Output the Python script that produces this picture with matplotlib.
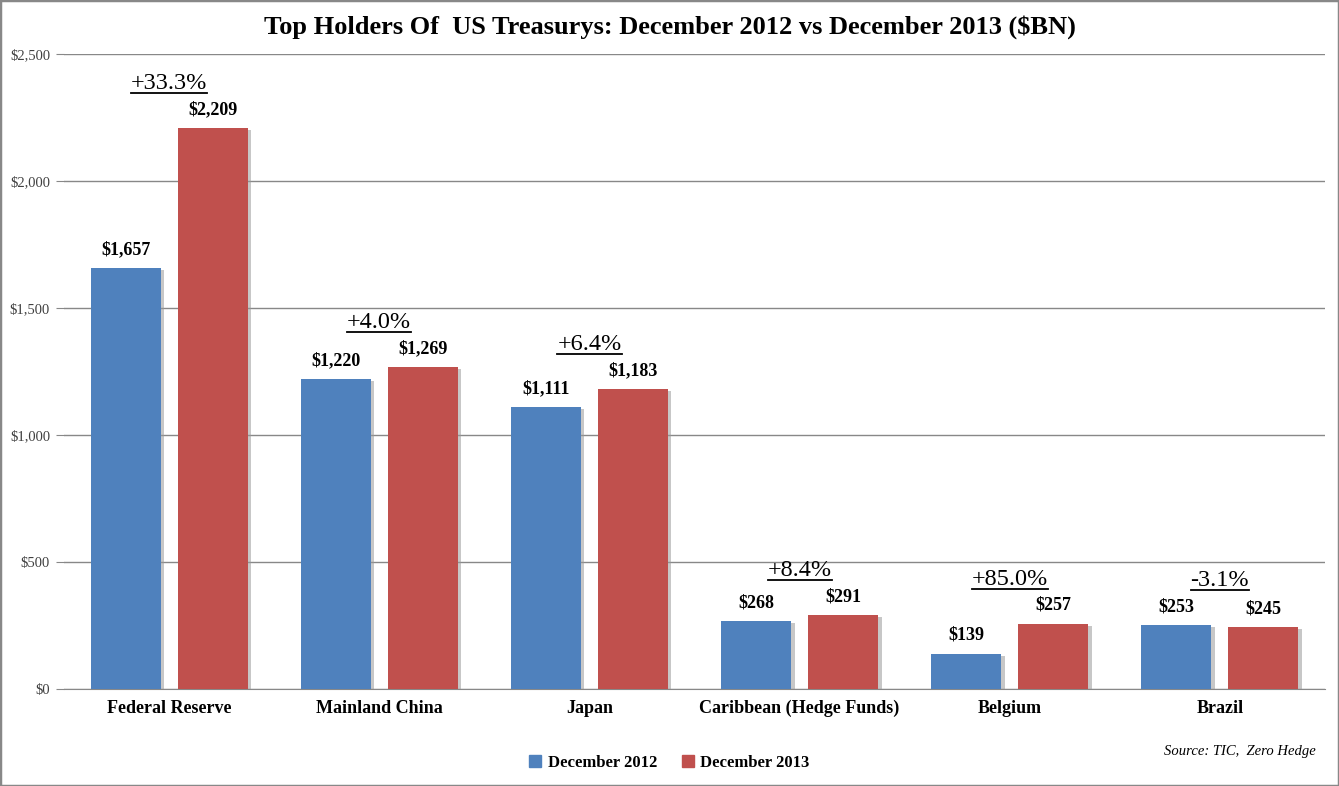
import matplotlib
matplotlib.use("Agg")
import matplotlib.pyplot as plt
import matplotlib.patheffects as pe
from matplotlib.lines import Line2D
from matplotlib.patches import Rectangle, Patch
import numpy as np

plt.rcParams['font.family'] = ['Liberation Serif', 'DejaVu Serif']

categories = ["Federal Reserve", "Mainland China", "Japan",
              "Caribbean (Hedge Funds)", "Belgium", "Brazil"]
dec2012 = [1657, 1220, 1111, 268, 139, 253]
dec2013 = [2209, 1269, 1183, 291, 257, 245]
pct_labels = ["+33.3%", "+4.0%", "+6.4%", "+8.4%", "+85.0%", "-3.1%"]
yticks = [0, 500, 1000, 1500, 2000, 2500]

blue = "#4F81BD"
red = "#C0504D"

fig = plt.figure(figsize=(13.39, 7.86), dpi=100)
ax = fig.add_axes([64/1339, 1-689/786, (1325-64)/1339, (689-54)/786])

x = np.arange(len(categories))
w = 0.333
off = 0.207
shadow = [pe.SimplePatchShadow(offset=(2.5, -1.5), shadow_rgbFace='#999999', alpha=0.55), pe.Normal()]
b1 = ax.bar(x - off, dec2012, w, color=blue, zorder=3)
b2 = ax.bar(x + off, dec2013, w, color=red, zorder=3)
for b in list(b1) + list(b2):
    b.set_path_effects(shadow)

for bars, vals in [(b1, dec2012), (b2, dec2013)]:
    for b, v in zip(bars, vals):
        ax.annotate("${:,}".format(v), (b.get_x() + b.get_width()/2, v),
                    xytext=(0, 7), textcoords="offset points",
                    ha="center", va="bottom", fontsize=13, fontweight="bold")

pct_texts = []
for i, lab in enumerate(pct_labels):
    top = max(dec2012[i], dec2013[i])
    t = ax.annotate(lab, (x[i], top), xytext=(0, 32), textcoords="offset points",
                    ha="center", va="center", fontsize=17.5)
    pct_texts.append(t)

ax.set_xlim(-0.5, len(categories) - 0.5)
ax.set_ylim(0, 2500)
ax.set_yticks(yticks)
ax.set_yticklabels(["${:,}".format(v) for v in yticks], fontsize=10.5, color="#404040")
ax.set_xticks(x)
ax.set_xticklabels(categories, fontsize=13, fontweight="bold")
ax.tick_params(axis="x", length=0, pad=8)
ax.tick_params(axis="y", length=6, color="#888888", pad=4)
ax.grid(axis="y", color="#888888", linewidth=1, zorder=0)
for s in ["top", "right", "left"]:
    ax.spines[s].set_visible(False)
ax.spines["bottom"].set_color("#888888")

fig.text(0.5, 1-27/786, "Top Holders Of  US Treasurys: December 2012 vs December 2013 ($BN)",
         ha="center", va="center", fontsize=19, fontweight="bold")
fig.text(1316/1339, 1-751/786, "Source: TIC,  Zero Hedge", ha="right", va="center",
         fontsize=10.5, style="italic")

handles = [Patch(color=blue, label="December 2012"), Patch(color=red, label="December 2013")]
fig.legend(handles=handles, loc="center", bbox_to_anchor=(0.5, 1-763/786), ncol=2,
           frameon=False, prop={"weight": "bold", "size": 12},
           handlelength=0.7, handleheight=0.7, handletextpad=0.4, columnspacing=1.5)

fig.patches.append(Rectangle((0, 0), 1, 1, transform=fig.transFigure, fill=False,
                             edgecolor="#888888", linewidth=2.5))

# underline the percentage labels
fig.canvas.draw()
r = fig.canvas.get_renderer()
inv = fig.transFigure.inverted()
for t in pct_texts:
    bb = t.get_window_extent(r)
    (x0, y0) = inv.transform((bb.x0, bb.y0 + 1))
    (x1, _) = inv.transform((bb.x1, bb.y0 + 1))
    fig.add_artist(Line2D([x0, x1], [y0, y0], color="black", linewidth=1.3,
                          transform=fig.transFigure))

fig.savefig("out.png", dpi=100)
